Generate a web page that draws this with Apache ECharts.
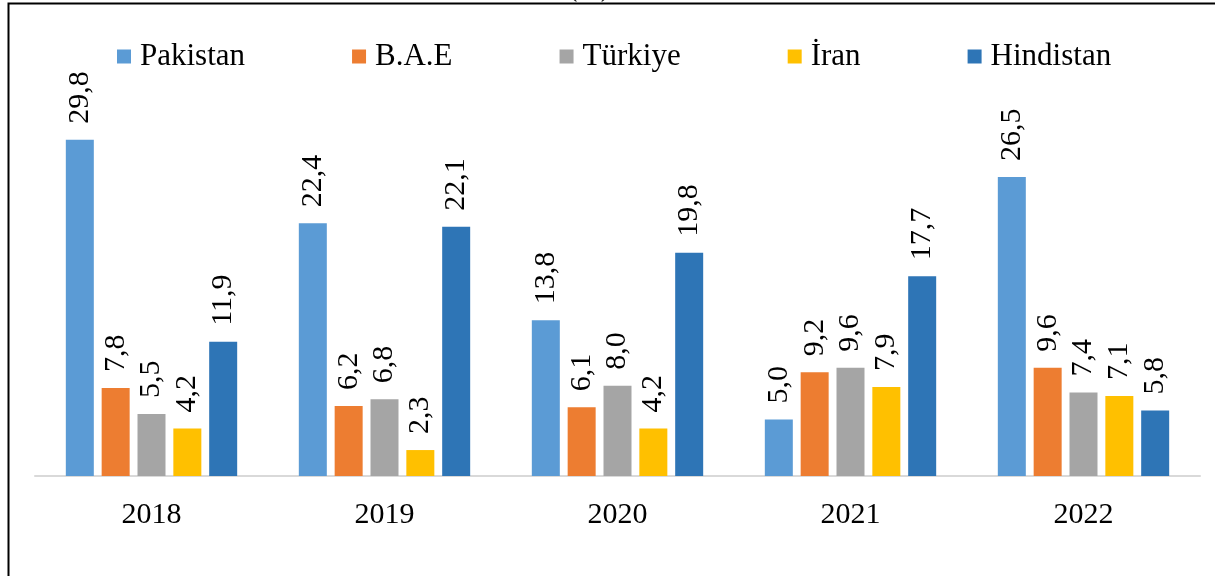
<!DOCTYPE html>
<html>
<head>
<meta charset="utf-8">
<script src="https://cdn.jsdelivr.net/npm/echarts@6/dist/echarts.min.js"></script>
<style>
html,body{margin:0;padding:0;background:#fff;}
#chart{width:1215px;height:576px;}
</style>
</head>
<body>
<div id="chart"></div>
<script>
const categories = ['2018', '2019', '2020', '2021', '2022'];
const seriesNames = ['Pakistan', 'B.A.E', 'Türkiye', 'İran', 'Hindistan'];
const pakistan = [29.8, 22.4, 13.8, 5.0, 26.5];
const bae = [7.8, 6.2, 6.1, 9.2, 9.6];
const turkiye = [5.5, 6.8, 8.0, 9.6, 7.4];
const iran = [4.2, 2.3, 4.2, 7.9, 7.1];
const hindistan = [11.9, 22.1, 19.8, 17.7, 5.8];
const colors = ['#5B9BD5', '#ED7D31', '#A5A5A5', '#FFC000', '#2E75B6'];
const seriesData = [pakistan, bae, turkiye, iran, hindistan];

const FONT = '"Liberation Serif", "Times New Roman", serif';

const chart = echarts.init(document.getElementById('chart'), null, {renderer: 'canvas'});
chart.setOption({
  animation: false,
  backgroundColor: '#ffffff',
  color: colors,
  legend: {
    top: 36,
    left: 112,
    padding: [5, 5, 5, 5],
    itemWidth: 14,
    itemHeight: 14,
    itemGap: 107,
    icon: 'rect',
    textStyle: {fontFamily: FONT, fontSize: 31, color: '#000', padding: [0, 0, 0, 4]},
    data: seriesNames
  },
  grid: {left: 35, right: 15, top: 81.2, bottom: 100, containLabel: false},
  xAxis: {
    type: 'category',
    data: categories,
    axisLine: {lineStyle: {color: '#d9d9d9', width: 2}},
    axisTick: {show: false},
    axisLabel: {fontFamily: FONT, fontSize: 30, color: '#000', margin: 24}
  },
  yAxis: {
    type: 'value',
    min: 0,
    max: 35,
    show: false,
    splitLine: {show: false}
  },
  graphic: [
    {type: 'text', left: 568, top: -25, z: 1,
     style: {text: '(%)', font: '28px ' + FONT, fill: '#000'}},
    {type: 'polyline', z: 10,
     shape: {points: [[8.5, 576], [8.5, 3.5], [1215, 3.5]]},
     style: {stroke: '#000', lineWidth: 2, fill: null}}
  ],
  series: seriesNames.map((name, i) => ({
    name: name,
    type: 'bar',
    data: seriesData[i],
    barWidth: 28,
    barGap: '28%',
    itemStyle: {color: colors[i]},
    label: {
      show: true,
      position: 'top',
      rotate: 90,
      align: 'left',
      verticalAlign: 'middle',
      distance: 16,
      fontFamily: FONT,
      fontSize: 30,
      color: '#000',
      formatter: p => p.value.toFixed(1).replace('.', ',')
    }
  }))
});
</script>
</body>
</html>
